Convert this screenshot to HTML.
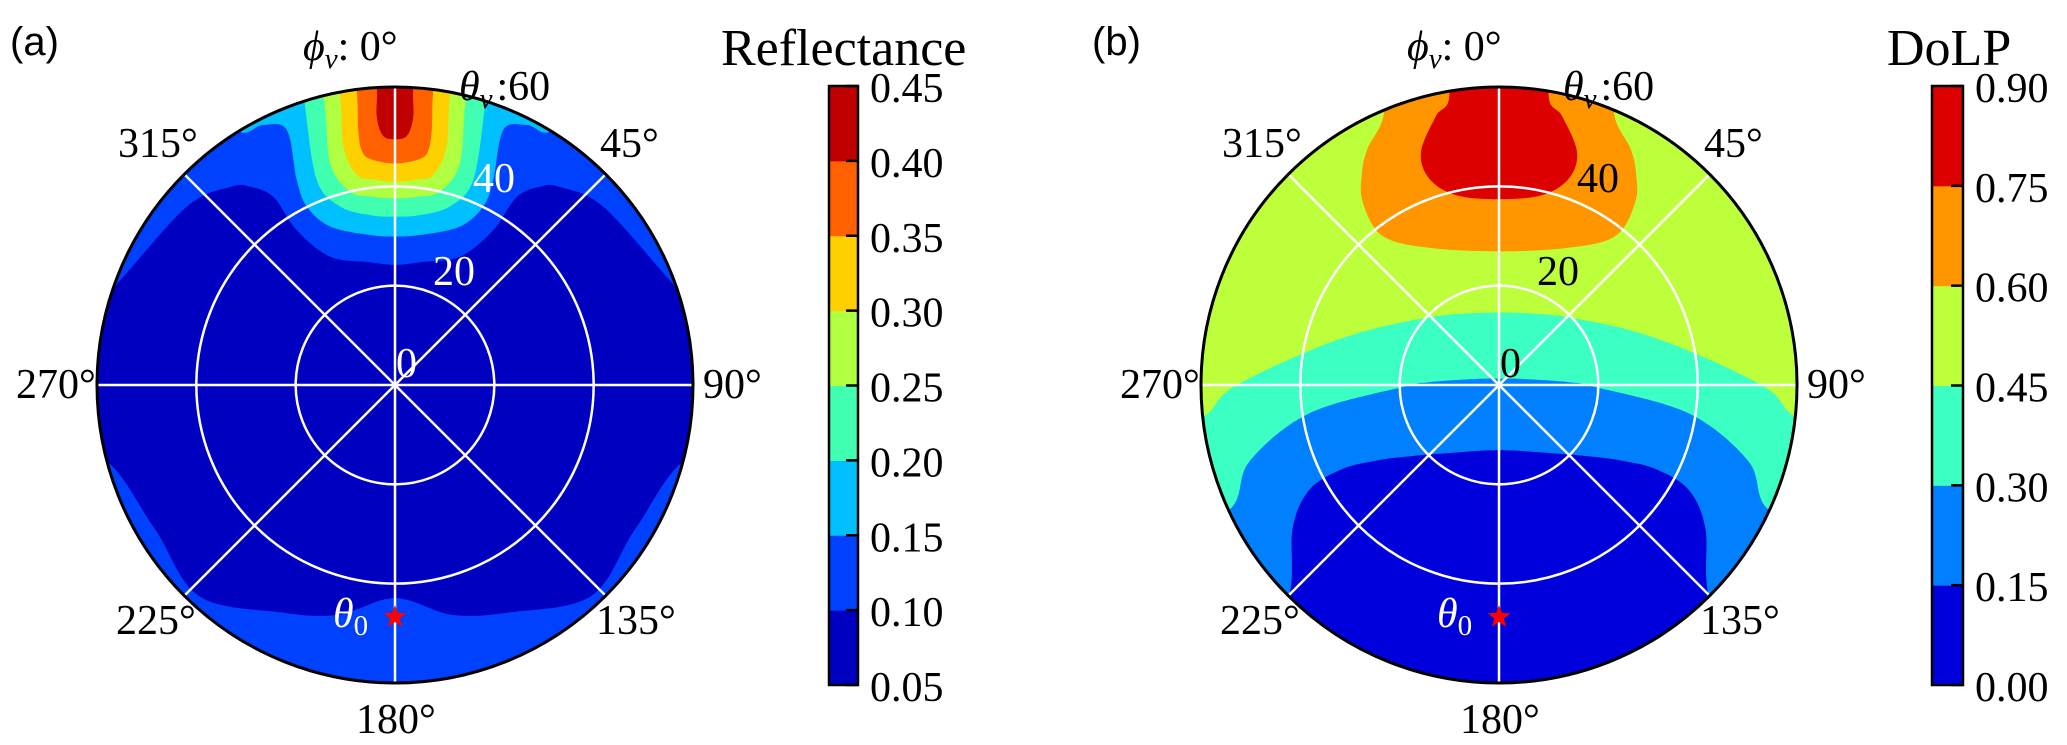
<!DOCTYPE html>
<html><head><meta charset="utf-8"><style>
html,body{margin:0;padding:0;background:#fff;}
svg{display:block;}
.serif{font-family:"Liberation Serif","Times New Roman",serif;}
.sans{font-family:"Liberation Sans",Arial,sans-serif;}
</style></head><body>
<svg id="fig" width="2067" height="745" viewBox="0 0 2067 745" xmlns="http://www.w3.org/2000/svg">
<defs>
<clipPath id="clipA"><circle cx="395" cy="385" r="298"/></clipPath>
<clipPath id="clipB"><circle cx="1499" cy="385" r="298"/></clipPath>
</defs>
<g id="panelA"></g>
<g id="panelB"></g>
</svg>
<script>
// ---- Reflectance (panel a) data ----
const reflTicks = ["0.45","0.40","0.35","0.30","0.25","0.20","0.15","0.10","0.05"];
const reflLevels = [0.05,0.10,0.15,0.20,0.25,0.30,0.35,0.40,0.45];
// contour boundaries (left half, theta in deg, phi in deg), mirrored about phi=0
const refl10TopTheta = [24.2,25.3,29,36.9,45.1,49.5,51.9,55.2,59.2,61,75,75];
const refl10TopPhi   = [0,-12,-26.9,-32.4,-32.9,-36.2,-39.8,-49.4,-69.1,-72,-72,0];
const refl10BotTheta = [42.9,47.7,51.4,58,56.4,61,75,75];
const refl10BotPhi   = [-180,-166,-152.8,-137,-120.8,-104,-104,-180];
const refl15Theta = [29.9,30.7,34.5,40.1,45.8,55.8,58.7,60.5,75,75];
const refl15Phi   = [0,-10,-22.3,-26.3,-25.6,-23,-26.9,-31.8,-32,0];
const refl20Theta = [33.9,34.5,37.6,44.2,58.9,60.5,75,75];
const refl20Phi   = [0,-8,-17.1,-20.9,-17.9,-17.5,-17.5,0];
const refl25Theta = [37.6,38.2,40,46.5,60,75,75];
const refl25Phi   = [0,-7,-13.1,-16.3,-13.9,-14,0];
const refl30Theta = [40.9,41.6,43,49.1,60,75,75];
const refl30Phi   = [0,-6,-10.3,-12.2,-10.7,-10.7,0];
const refl35Theta = [44.6,45.8,47.8,51.9,60,75,75];
const refl35Phi   = [0,-6.3,-8.1,-8.2,-7.4,-7.4,0];
const refl40Theta = [49.5,50.3,54.2,60,75,75];
const refl40Phi   = [0,-2.8,-3.9,-3.5,-3.5,0];

// ---- DoLP (panel b) data ----
const dolpTicks = ["0.90","0.75","0.60","0.45","0.30","0.15","0.00"];
const dolpLevels = [0.00,0.15,0.30,0.45,0.60,0.75,0.90];
const dolp45Theta = [14.6,16,19.6,29.5,41.2,54.2,60.6,75,75];
const dolp45Phi   = [0,-26.1,-46,-68.7,-81.9,-90.9,-96.3,-97,-180];
const dolp30Theta = [1.3,3.3,7.1,14.1,19.4,38.6,52.5,59.7,75,75];
const dolp30Phi   = [0,-67,-81,-87.7,-91.2,-98.5,-107,-114.8,-115,-180];
const dolp15Theta = [13.1,17,24.3,29.5,35.8,43.6,50.6,59.8,75,75];
const dolp15Phi   = [-180,-143.7,-126.6,-121.3,-118.2,-118.9,-124.8,-135.1,-140,-180];
const dolp60Theta = [26.9,31,38.1,45.9,50.7,54.3,60.5,75,75];
const dolp60Phi   = [0,-27,-38,-36.7,-33,-29.3,-22.5,-22,0];
const dolp75Theta = [37.4,39.2,43.9,49.5,55.6,59.3,75,75];
const dolp75Phi   = [0,-12.8,-18.7,-18.5,-13.2,-9.7,-9,0];

const NS="http://www.w3.org/2000/svg";
const K = 298/60;
function polar(cx,cy,t,p){const a=p*Math.PI/180;return [cx+K*t*Math.sin(a), cy-K*t*Math.cos(a)];}
function regionPath(cx,cy,th,ph){
  const half=th.map((t,i)=>polar(cx,cy,t,ph[i]));
  const mir=half.slice().reverse().map(q=>[2*cx-q[0],q[1]]);
  const pts=half.concat(mir.slice(1,mir.length-1));
  const n=pts.length;
  let d="M"+pts[0][0].toFixed(1)+","+pts[0][1].toFixed(1);
  for(let i=0;i<n;i++){
    const p0=pts[(i-1+n)%n],p1=pts[i],p2=pts[(i+1)%n],p3=pts[(i+2)%n];
    const c1=[p1[0]+(p2[0]-p0[0])/6,p1[1]+(p2[1]-p0[1])/6];
    const c2=[p2[0]-(p3[0]-p1[0])/6,p2[1]-(p3[1]-p1[1])/6];
    d+="C"+c1[0].toFixed(1)+","+c1[1].toFixed(1)+" "+c2[0].toFixed(1)+","+c2[1].toFixed(1)+" "+p2[0].toFixed(1)+","+p2[1].toFixed(1);
  }
  return d+"Z";
}
function mk(parent,tag,attrs){const e=document.createElementNS(NS,tag);for(const k in attrs)e.setAttribute(k,attrs[k]);parent.appendChild(e);return e;}

function buildPanel(g,cx,cy,clip,bg,regions,ringLabelColor,label,title,titleX,cbX,cbW,levels,ticks,colors,panelLetterX){
  const plot=mk(g,"g",{"clip-path":"url(#"+clip+")"});
  
  
  const base=mk(plot,"circle",{cx:cx,cy:cy,r:298,fill:bg});
  
  
  regions.forEach(r=>{
    const p=mk(plot,"path",{d:regionPath(cx,cy,r.t,r.p),fill:r.c});
    
    
  });
  const grid=mk(g,"g",{stroke:"#fff","stroke-width":2.5,fill:"none"});
  
  
  [20,40].forEach(t=>{const c=mk(grid,"circle",{cx:cx,cy:cy,r:K*t});
    
    });
  [0,45,90,135].forEach(a=>{const p1=polar(cx,cy,60,a),p2=polar(cx,cy,60,a+180);
    const l=mk(grid,"line",{x1:p1[0],y1:p1[1],x2:p2[0],y2:p2[1]});
    
    });
  const outline=mk(g,"circle",{cx:cx,cy:cy,r:298,fill:"none",stroke:"#000","stroke-width":3});
  
  
  const angs=[["315°",-277,-228],["45°",205,-228],["270°",-379,13],["90°",308,13],["225°",-279,249],["135°",201,249],["180°",-39,348]];
  angs.forEach(a=>{const t=mk(g,"text",{x:cx+a[1],y:cy+a[2],"font-size":42,"class":"serif"});t.textContent=a[0];
    
    });
  const rl=[["40",78,-193],["20",38,-100],["0",1,-8]];
  rl.forEach(a=>{const t=mk(g,"text",{x:cx+a[1],y:cy+a[2],"font-size":42,fill:ringLabelColor,"class":"serif"});t.textContent=a[0];
    
    });
  const phiL=mk(g,"text",{x:cx-92,y:60,"font-size":42,"class":"serif"});
  phiL.innerHTML='<tspan font-style="italic">ϕ</tspan><tspan font-style="italic" font-size="29" dy="8">v</tspan><tspan dy="-8">: 0°</tspan>';
  
  
  const thL=mk(g,"text",{x:cx+64,y:100,"font-size":42,"class":"serif"});
  thL.innerHTML='<tspan font-style="italic">θ</tspan><tspan font-style="italic" font-size="29" dy="8">v</tspan><tspan dy="-8" dx="4">:60</tspan>';
  
  
  const t0=mk(g,"text",{x:cx-62,y:cy+242,"font-size":42,fill:"#fff","class":"serif"});
  t0.innerHTML='<tspan font-style="italic">θ</tspan><tspan font-size="29" dy="8">0</tspan>';
  
  
  const sp=[];for(let i=0;i<10;i++){const r=i%2?5:12,a=Math.PI*i/5;sp.push((cx+r*Math.sin(a)).toFixed(1)+","+(cy+232-r*Math.cos(a)).toFixed(1));}
  const star=mk(g,"polygon",{points:sp.join(" "),fill:"#f00"});
  
  
  const lt=mk(g,"text",{x:panelLetterX,y:55,"font-size":40,"class":"sans"});lt.textContent=label;
  
  
  const cb=mk(g,"g",{});
  
  
  const top=86,bot=685,n=levels.length-1,h=(bot-top)/n;
  for(let i=0;i<n;i++){const r=mk(cb,"rect",{x:cbX,y:bot-(i+1)*h,width:cbW,height:h+0.5,fill:colors[i]});
    
    }
  const fr=mk(cb,"rect",{x:cbX,y:top,width:cbW,height:bot-top,fill:"none",stroke:"#000","stroke-width":2.5});
  
  
  ticks.forEach((s,i)=>{const y=top+i*h;
    const tk=mk(cb,"line",{x1:cbX+cbW-12,x2:cbX+cbW,y1:y,y2:y,stroke:"#000","stroke-width":2.5});
    
    
    const t=mk(cb,"text",{x:cbX+cbW+12,y:y+16,"font-size":42,"class":"serif"});t.textContent=s;
    
    });
  const tt=mk(cb,"text",{x:titleX,y:65,"font-size":52,"class":"serif"});tt.textContent=title;
  
  
}

const reflColors=["#0000c0","#0040ff","#00c0ff","#40ffb0","#b0ff40","#ffd000","#ff6000","#c00000"];
buildPanel(document.getElementById("panelA"),395,385,"clipA",reflColors[0],[
  {lvl:0.10,t:refl10TopTheta,p:refl10TopPhi,c:reflColors[1]},
  {lvl:0.10,t:refl10BotTheta,p:refl10BotPhi,c:reflColors[1]},
  {lvl:0.15,t:refl15Theta,p:refl15Phi,c:reflColors[2]},
  {lvl:0.20,t:refl20Theta,p:refl20Phi,c:reflColors[3]},
  {lvl:0.25,t:refl25Theta,p:refl25Phi,c:reflColors[4]},
  {lvl:0.30,t:refl30Theta,p:refl30Phi,c:reflColors[5]},
  {lvl:0.35,t:refl35Theta,p:refl35Phi,c:reflColors[6]},
  {lvl:0.40,t:refl40Theta,p:refl40Phi,c:reflColors[7]}
],"#fff","(a)","Reflectance",721,829,29,reflLevels,reflTicks,reflColors,10);

const dolpColors=["#0000dd","#0080ff","#3cffc3","#beff3c","#ff9600","#dd0000"];
buildPanel(document.getElementById("panelB"),1499,385,"clipB",dolpColors[3],[
  {lvl:0.45,t:dolp45Theta,p:dolp45Phi,c:dolpColors[2]},
  {lvl:0.30,t:dolp30Theta,p:dolp30Phi,c:dolpColors[1]},
  {lvl:0.15,t:dolp15Theta,p:dolp15Phi,c:dolpColors[0]},
  {lvl:0.60,t:dolp60Theta,p:dolp60Phi,c:dolpColors[4]},
  {lvl:0.75,t:dolp75Theta,p:dolp75Phi,c:dolpColors[5]}
],"#000","(b)","DoLP",1887,1932,31,dolpLevels,dolpTicks,dolpColors,1092);
</script>
</body></html>
